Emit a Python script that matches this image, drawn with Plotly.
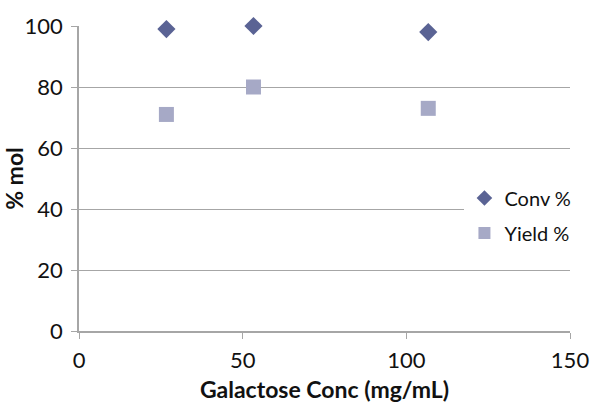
import plotly.graph_objects as go

conc = [26.7, 53.3, 106.7]
conv = [99, 100, 98]
yield_pct = [71, 80, 73]
x_ticks = [0, 50, 100, 150]
y_ticks = [0, 20, 40, 60, 80, 100]

fig = go.Figure()
fig.add_trace(go.Scatter(x=conc, y=conv, mode="markers", name="Conv %", cliponaxis=False,
                         legendgroup="a",
                         marker=dict(symbol="diamond", size=14, color="#5a6394")))
fig.add_trace(go.Scatter(x=conc, y=yield_pct, mode="markers", name="Yield %", cliponaxis=False,
                         legendgroup="b",
                         marker=dict(symbol="square", size=15, color="#a6a9c6")))

font = "Lato, 'Open Sans', sans-serif"
fig.update_layout(
    width=591, height=403,
    margin=dict(l=79, r=21, t=26, b=72),
    paper_bgcolor="white", plot_bgcolor="white",
    font=dict(family=font, size=22, color="#111111"),
    showlegend=True,
    legend=dict(x=0.785, y=0.50, xanchor="left", yanchor="top", bgcolor="white",
                font=dict(size=20), itemsizing="constant", traceorder="grouped",
                tracegroupgap=6),
    xaxis=dict(range=[0, 150], tickvals=x_ticks, showgrid=False, zeroline=False, automargin=False,
               showline=True, linecolor="#a6a6a6", linewidth=1.5, ticklabeloverflow="allow",
               ticks="outside", ticklen=6, tickcolor="#a6a6a6", ticklabelstandoff=3,
               title=dict(text="<b>Galactose Conc (mg/mL)</b>", font=dict(size=23), standoff=12)),
    yaxis=dict(range=[0, 100], tickvals=y_ticks, showgrid=True, gridcolor="#a6a6a6", gridwidth=1.2,
               zeroline=False, showline=True, linecolor="#a6a6a6", linewidth=1.5, automargin=False,
               ticks="outside", ticklen=6, tickcolor="#a6a6a6", ticklabelstandoff=4,
               title=dict(text="<b>% mol</b>", font=dict(size=23), standoff=0)),
)
fig.write_html("out.html", config={"displayModeBar": False},
               post_script="document.body.style.margin='0';document.body.style.overflow='hidden';")
